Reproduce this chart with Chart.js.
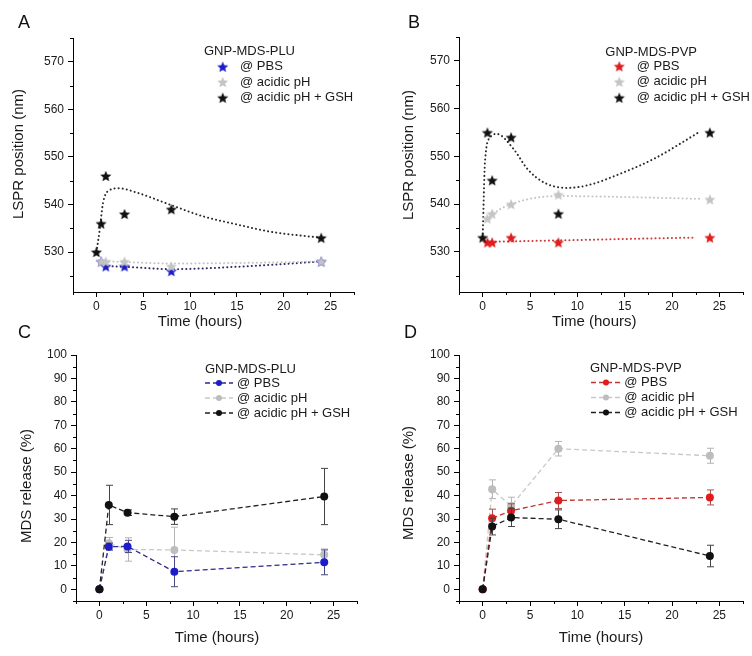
<!DOCTYPE html>
<html>
<head>
<meta charset="utf-8">
<script src="https://cdn.jsdelivr.net/npm/chart.js@4.4.1/dist/chart.umd.min.js"></script>
<style>
  body { margin: 0; background: #fff; }
  #wrap { position: relative; width: 752px; height: 656px; overflow: hidden; background: #fff; }
  #wrap canvas { position: absolute; }
  .tag { position: absolute; font: 18px "Liberation Sans", Arial, sans-serif; color: #111; line-height: normal; }
</style>
</head>
<body>
<div id="wrap">
  <canvas id="chartA" width="376" height="340" style="left:0;top:0"></canvas>
  <canvas id="chartB" width="376" height="340" style="left:376px;top:0"></canvas>
  <canvas id="chartC" width="376" height="330" style="left:0;top:326px"></canvas>
  <canvas id="chartD" width="376" height="330" style="left:376px;top:326px"></canvas>
  <div class="tag" style="left:18px;top:12px">A</div>
  <div class="tag" style="left:408px;top:12px">B</div>
  <div class="tag" style="left:18px;top:322px">C</div>
  <div class="tag" style="left:404px;top:322px">D</div>
</div>
<script>
const FONT = '"Liberation Sans", Arial, sans-serif';

// tick labels
const timeTicks = [0, 5, 10, 15, 20, 25];
const lsprTicks = [530, 540, 550, 560, 570];
const releaseTicks = [0, 10, 20, 30, 40, 50, 60, 70, 80, 90, 100];

// ---- LSPR position (nm), GNP-MDS-PLU ----
const pluPbsT = [0.5, 1, 3, 8, 24];
const pluPbs = [528, 527, 527, 526, 528];
const pluAcidT = [0.5, 1, 3, 8, 24];
const pluAcid = [528, 528, 528, 527, 528];
const pluGshT = [0, 0.5, 1, 3, 8, 24];
const pluGsh = [530, 536, 546, 538, 539, 533];

// ---- LSPR position (nm), GNP-MDS-PVP ----
const pvpPbsT = [0.5, 1, 3, 8, 24];
const pvpPbs = [532, 532, 533, 532, 533];
const pvpAcidT = [0.5, 1, 3, 8, 24];
const pvpAcid = [537, 538, 540, 542, 541];
const pvpGshT = [0, 0.5, 1, 3, 8, 24];
const pvpGsh = [533, 555, 545, 554, 538, 555];

// dotted guide curves
const fitPluPbsT = [0.5, 1, 3, 8, 15, 24];
const fitPluPbs = [527.8, 527.2, 526.9, 526.4, 526.9, 528];
const fitPluAcidT = [0.5, 3, 8, 15, 24];
const fitPluAcid = [528.1, 527.9, 527.6, 527.7, 528];
const fitPluGshT = [0, 0.35, 0.7, 1.3, 2.4, 4.3, 7.8, 11.4, 15, 18.5, 24];
const fitPluGsh = [530, 534.7, 540.3, 542.9, 543.4, 542.5, 540, 537.5, 535.8, 534.3, 533];
const fitPvpPbsT = [0.5, 8, 15, 22.5];
const fitPvpPbs = [532.1, 532.4, 532.7, 533];
const fitPvpAcidT = [0.5, 1, 3, 8, 14.7, 23];
const fitPvpAcid = [536.8, 537.8, 540, 541.7, 541.5, 541.1];
const fitPvpGshT = [0, 0.25, 0.8, 1.5, 3.2, 4.8, 6.6, 9, 11.2, 14.7, 18.2, 22.8];
const fitPvpGsh = [533, 549, 554, 554.7, 551.7, 547.2, 544.4, 543.4, 544, 546.5, 549.6, 555];

// ---- MDS release (%) ----
const releaseT = [0, 1, 3, 8, 24];
const relPluPbs = [0, 18.2, 18.3, 7.5, 11.5];
const relPluPbsErr = [0, 1.5, 2.6, 6.4, 5.3];
const relPluAcid = [0, 19.6, 17, 16.8, 14.7];
const relPluAcidErr = [0, 2.5, 5, 9.7, 2.5];
const relPluGsh = [0, 36, 32.7, 31, 39.6];
const relPluGshErr = [0, 8.4, 1.2, 3.3, 12];
const relPvpPbs = [0, 30.3, 33.5, 37.9, 39.2];
const relPvpPbsErr = [0, 3.9, 3, 3.4, 3.2];
const relPvpAcid = [0, 42.7, 35.5, 60, 57];
const relPvpAcidErr = [0, 4, 3.8, 3.1, 3.2];
const relPvpGsh = [0, 26.8, 30.6, 29.9, 14.2];
const relPvpGshErr = [0, 3.6, 3.8, 4, 4.6];

const pts = (ts, vs) => ts.map((t, i) => ({ x: t, y: vs[i] }));

function starImage(color, r) {
  const size = Math.ceil(r * 2 + 2);
  const c = document.createElement('canvas');
  c.width = c.height = size;
  const g = c.getContext('2d');
  g.translate(size / 2, size / 2 + r * 0.1);
  g.beginPath();
  for (let k = 0; k < 10; k++) {
    const rad = k % 2 ? r * 0.45 : r;
    const a = -Math.PI / 2 + k * Math.PI / 5;
    g.lineTo(rad * Math.cos(a), rad * Math.sin(a));
  }
  g.closePath();
  g.fillStyle = color;
  g.fill();
  return c;
}

function stars(ts, vs, color, label, row, order) {
  return {
    label, data: pts(ts, vs), showLine: false, order, legendRow: row,
    pointStyle: starImage(color, 5.8), pointRadius: 6, borderColor: color, backgroundColor: color
  };
}

function dotted(ts, vs, color, order) {
  return {
    data: pts(ts, vs), order, pointRadius: 0, borderColor: color, borderWidth: 2,
    borderDash: [0.1, 4], borderCapStyle: 'round', cubicInterpolationMode: 'monotone', fill: false
  };
}

function release(vs, errs, color, lineColor, errColor, label, row, order) {
  return {
    label, data: pts(releaseT, vs), errors: errs, errorColor: errColor, order, legendRow: row,
    borderColor: lineColor, borderWidth: 1.3, borderDash: [5, 3], tension: 0,
    pointRadius: 4, pointBackgroundColor: color, pointBorderColor: color, pointBorderWidth: 0
  };
}

// vertical error bars with caps, drawn under each dataset's marks
const errorBars = {
  id: 'errorBars',
  beforeDatasetDraw(chart, args) {
    const ds = chart.data.datasets[args.index];
    if (!ds.errors) return;
    const { ctx, scales: { x, y } } = chart;
    ctx.save();
    ctx.strokeStyle = ds.errorColor;
    ctx.lineWidth = 1;
    ctx.beginPath();
    ds.data.forEach((p, i) => {
      const e = ds.errors[i];
      if (!e) return;
      const px = Math.round(x.getPixelForValue(p.x)) + 0.5;
      const top = y.getPixelForValue(p.y + e);
      const bot = y.getPixelForValue(p.y - e);
      ctx.moveTo(px, top); ctx.lineTo(px, bot);
      ctx.moveTo(px - 3.5, top); ctx.lineTo(px + 3.5, top);
      ctx.moveTo(px - 3.5, bot); ctx.lineTo(px + 3.5, bot);
    });
    ctx.stroke();
    ctx.restore();
  }
};

// short minor ticks between the labelled ones
const minorTicks = {
  id: 'minorTicks',
  afterDraw(chart, args, o) {
    const { ctx, chartArea: a, scales: { x, y } } = chart;
    ctx.save();
    ctx.strokeStyle = '#000';
    ctx.lineWidth = 1;
    ctx.beginPath();
    for (let v = o.xFrom; v <= x.max + 1e-6; v += o.xStep) {
      const px = Math.round(x.getPixelForValue(v)) + 0.5;
      ctx.moveTo(px, a.bottom); ctx.lineTo(px, a.bottom + 3);
    }
    for (let v = o.yFrom; v <= y.max + 1e-6; v += o.yStep) {
      const py = Math.round(y.getPixelForValue(v)) + 0.5;
      ctx.moveTo(a.left, py); ctx.lineTo(a.left - 3, py);
    }
    ctx.stroke();
    ctx.restore();
  }
};

// axis titles and the in-plot legend
const panelText = {
  id: 'panelText',
  afterDraw(chart, args, o) {
    const ctx = chart.ctx;
    ctx.save();
    ctx.fillStyle = '#1a1a1a';
    ctx.textBaseline = 'middle';
    ctx.textAlign = 'center';
    ctx.font = '15px ' + FONT;
    ctx.fillText(o.xTitle, o.xTitleAt[0], o.xTitleAt[1]);
    ctx.save();
    ctx.translate(o.yTitleAt[0], o.yTitleAt[1]);
    ctx.rotate(-Math.PI / 2);
    ctx.fillText(o.yTitle, 0, 0);
    ctx.restore();

    const lg = o.legend;
    ctx.textAlign = 'left';
    ctx.font = '13px ' + FONT;
    ctx.fillText(lg.title, lg.titleX, lg.titleY);
    chart.data.datasets.forEach(ds => {
      if (ds.legendRow === undefined) return;
      const yy = lg.rows[ds.legendRow];
      if (lg.kind === 'star') {
        const img = ds.pointStyle;
        ctx.drawImage(img, lg.symX - img.width / 2, yy - img.height / 2);
      } else {
        ctx.save();
        ctx.strokeStyle = ds.borderColor;
        ctx.lineWidth = ds.borderWidth;
        ctx.setLineDash(ds.borderDash);
        ctx.beginPath();
        ctx.moveTo(lg.lineX[0], yy); ctx.lineTo(lg.lineX[1], yy);
        ctx.stroke();
        ctx.setLineDash([]);
        ctx.fillStyle = ds.pointBackgroundColor;
        ctx.beginPath();
        ctx.arc(lg.symX, yy, 3, 0, Math.PI * 2);
        ctx.fill();
        ctx.restore();
      }
      ctx.fillText(ds.label, lg.textX, yy);
    });
    ctx.restore();
  }
};

function axis(extra) {
  return Object.assign({
    type: 'linear',
    ticks: { color: '#1a1a1a', maxRotation: 0, font: { family: FONT, size: 12 } },
    grid: { drawOnChartArea: false, tickLength: 5, color: '#000', lineWidth: 1 },
    border: { color: '#000', width: 1 }
  }, extra);
}

function panel(id, p) {
  const x = axis({
    min: -2.5, max: 27.5,
    afterBuildTicks: s => { s.ticks = timeTicks.map(v => ({ value: v })); },
    afterFit: s => { s.height = p.xHeight; }
  });
  x.ticks = Object.assign({}, x.ticks, { padding: 2 });
  const y = axis({
    min: p.yMin, max: p.yMax,
    afterBuildTicks: s => { s.ticks = p.yTicks.map(v => ({ value: v })); },
    afterFit: s => { s.width = p.yWidth; }
  });
  y.ticks = Object.assign({}, y.ticks, { padding: 4 });
  return new Chart(document.getElementById(id), {
    type: 'line',
    data: { datasets: p.datasets },
    options: {
      responsive: false,
      animation: false,
      events: [],
      layout: { padding: p.padding },
      plugins: {
        legend: { display: false },
        tooltip: { enabled: false },
        minorTicks: { xFrom: -2.5, xStep: 5, yFrom: p.yMinorFrom, yStep: 10 },
        panelText: p.text
      },
      scales: { x, y }
    },
    plugins: [errorBars, minorTicks, panelText]
  });
}

const BLACK = '#111111', GRAY = '#c4c4c4', BLUE = '#1c1cc8', RED = '#e01c1c';

panel('chartA', {
  padding: { left: 0, top: 38, right: 22, bottom: 0 },
  yWidth: 73, xHeight: 48,
  yMin: 521.6, yMax: 575, yTicks: lsprTicks, yMinorFrom: 525,
  datasets: [
    stars(pluGshT, pluGsh, BLACK, '@ acidic pH + GSH', 2, 0),
    stars(pluAcidT, pluAcid, GRAY, '@ acidic pH', 1, 1),
    stars(pluPbsT, pluPbs, BLUE, '@ PBS', 0, 2),
    dotted(fitPluGshT, fitPluGsh, '#2a2a2a', 5),
    dotted(fitPluAcidT, fitPluAcid, '#c4c4c4', 6),
    dotted(fitPluPbsT, fitPluPbs, '#2c2c66', 7)
  ],
  text: {
    xTitle: 'Time (hours)', xTitleAt: [200, 322],
    yTitle: 'LSPR position (nm)', yTitleAt: [18.5, 154],
    legend: { kind: 'star', title: 'GNP-MDS-PLU', titleX: 204, titleY: 51, rows: [66.7, 82, 97.7], symX: 222.7, textX: 240 }
  }
});

panel('chartB', {
  padding: { left: 0, top: 37, right: 9, bottom: 0 },
  yWidth: 83, xHeight: 48,
  yMin: 521.6, yMax: 575, yTicks: lsprTicks, yMinorFrom: 525,
  datasets: [
    stars(pvpGshT, pvpGsh, BLACK, '@ acidic pH + GSH', 2, 0),
    stars(pvpPbsT, pvpPbs, RED, '@ PBS', 0, 1),
    stars(pvpAcidT, pvpAcid, GRAY, '@ acidic pH', 1, 2),
    dotted(fitPvpGshT, fitPvpGsh, '#2a2a2a', 5),
    dotted(fitPvpAcidT, fitPvpAcid, '#c4c4c4', 6),
    dotted(fitPvpPbsT, fitPvpPbs, '#cc3c3c', 7)
  ],
  text: {
    xTitle: 'Time (hours)', xTitleAt: [218.3, 322],
    yTitle: 'LSPR position (nm)', yTitleAt: [33.3, 155],
    legend: { kind: 'star', title: 'GNP-MDS-PVP', titleX: 229.3, titleY: 52, rows: [66.3, 81.7, 97.7], symX: 243.3, textX: 260.7 }
  }
});

panel('chartC', {
  padding: { left: 0, top: 29, right: 19, bottom: 0 },
  yWidth: 76, xHeight: 55,
  yMin: -5, yMax: 100, yTicks: releaseTicks, yMinorFrom: -5,
  datasets: [
    release(relPluGsh, relPluGshErr, BLACK, '#222222', '#444444', '@ acidic pH + GSH', 2, 0),
    release(relPluPbs, relPluPbsErr, BLUE, '#2c2c8a', '#4a4a86', '@ PBS', 0, 1),
    release(relPluAcid, relPluAcidErr, '#bdbdbd', '#c8c8c8', '#b4b4b4', '@ acidic pH', 1, 2)
  ],
  text: {
    xTitle: 'Time (hours)', xTitleAt: [217, 311.5],
    yTitle: 'MDS release (%)', yTitleAt: [26.7, 160],
    legend: { kind: 'line', title: 'GNP-MDS-PLU', titleX: 205, titleY: 43, rows: [57, 72, 87], lineX: [205, 233], symX: 219, textX: 237 }
  }
});

panel('chartD', {
  padding: { left: 0, top: 29, right: 9, bottom: 0 },
  yWidth: 83, xHeight: 55,
  yMin: -5, yMax: 100, yTicks: releaseTicks, yMinorFrom: -5,
  datasets: [
    release(relPvpGsh, relPvpGshErr, BLACK, '#222222', '#444444', '@ acidic pH + GSH', 2, 0),
    release(relPvpPbs, relPvpPbsErr, RED, '#c03535', '#a85050', '@ PBS', 0, 1),
    release(relPvpAcid, relPvpAcidErr, '#bdbdbd', '#c8c8c8', '#b4b4b4', '@ acidic pH', 1, 2)
  ],
  text: {
    xTitle: 'Time (hours)', xTitleAt: [225, 311.5],
    yTitle: 'MDS release (%)', yTitleAt: [33, 157],
    legend: { kind: 'line', title: 'GNP-MDS-PVP', titleX: 214, titleY: 42, rows: [56.5, 71.5, 86.5], lineX: [215, 245], symX: 230, textX: 248.3 }
  }
});
</script>
</body>
</html>
